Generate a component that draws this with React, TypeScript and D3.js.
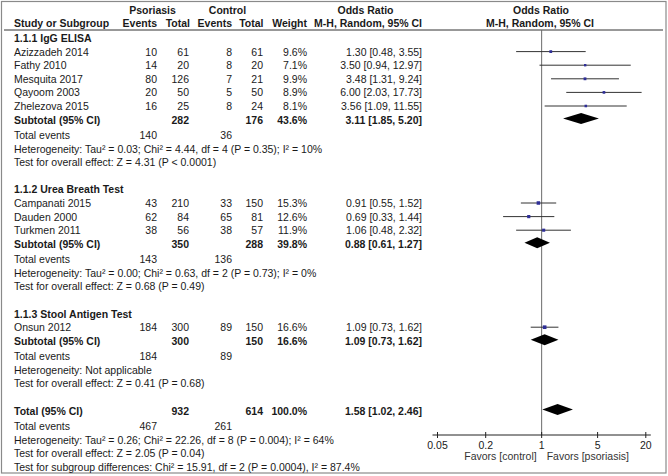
import React from "react";
import * as d3 from "d3";

const groupNames = ["1.1.1 IgG ELISA", "1.1.2 Urea Breath Test", "1.1.3 Stool Antigen Test"];
const studyNames = [
  ["Azizzadeh 2014", "Fathy 2010", "Mesquita 2017", "Qayoom 2003", "Zhelezova 2015"],
  ["Campanati 2015", "Dauden 2000", "Turkmen 2011"],
  ["Onsun 2012"],
];
const psoEvents = [[10, 14, 80, 20, 16], [43, 62, 38], [184]];
const psoTotal = [[61, 20, 126, 50, 25], [210, 84, 56], [300]];
const ctlEvents = [[8, 8, 7, 5, 8], [33, 65, 38], [89]];
const ctlTotal = [[61, 20, 21, 50, 24], [150, 81, 57], [150]];
const weights = [[9.6, 7.1, 9.9, 8.9, 8.1], [15.3, 12.6, 11.9], [16.6]];
const orEst = [[1.3, 3.5, 3.48, 6.0, 3.56], [0.91, 0.69, 1.06], [1.09]];
const orLow = [[0.48, 0.94, 1.31, 2.03, 1.09], [0.55, 0.33, 0.48], [0.73]];
const orHigh = [[3.55, 12.97, 9.24, 17.73, 11.55], [1.52, 1.44, 2.32], [1.62]];

const subPsoTotal = [282, 350, 300];
const subCtlTotal = [176, 288, 150];
const subWeight = ["43.6%", "39.8%", "16.6%"];
const subEst = [3.11, 0.88, 1.09];
const subLow = [1.85, 0.61, 0.73];
const subHigh = [5.2, 1.27, 1.62];
const subPsoEvents = [140, 143, 184];
const subCtlEvents = [36, 136, 89];
const subHetero = [
  "Heterogeneity: Tau² = 0.03; Chi² = 4.44, df = 4 (P = 0.35); I² = 10%",
  "Heterogeneity: Tau² = 0.00; Chi² = 0.63, df = 2 (P = 0.73); I² = 0%",
  "Heterogeneity: Not applicable",
];
const subTest = [
  "Test for overall effect: Z = 4.31 (P < 0.0001)",
  "Test for overall effect: Z = 0.68 (P = 0.49)",
  "Test for overall effect: Z = 0.41 (P = 0.68)",
];

const totalPso = 932;
const totalCtl = 614;
const totalWeight = "100.0%";
const totalEst = 1.58;
const totalLow = 1.02;
const totalHigh = 2.46;
const totalPsoEvents = 467;
const totalCtlEvents = 261;
const totalHetero = "Heterogeneity: Tau² = 0.26; Chi² = 22.26, df = 8 (P = 0.004); I² = 64%";
const totalTest = "Test for overall effect: Z = 2.05 (P = 0.04)";
const subgroupTest = "Test for subgroup differences: Chi² = 15.91, df = 2 (P = 0.0004), I² = 87.4%";

const tickValues = [0.05, 0.2, 1, 5, 20];
const tickLabels = ["0.05", "0.2", "1", "5", "20"];

const fmt2 = (v: number) => v.toFixed(2);
const ciText = (e: number, l: number, h: number) => `${fmt2(e)} [${fmt2(l)}, ${fmt2(h)}]`;

export default function App() {
  const W = 668;
  const H = 476;
  const font = "'Liberation Sans', Arial, Helvetica, sans-serif";
  const fs = 10.5;

  const step = 13.6;
  const gap = 1.8;
  const y0 = 38;

  const rows: any[] = [];
  const ys: number[] = [];
  let line = 0;
  let gaps = 0;
  const push = (r: any) => {
    rows.push(r);
    ys.push(y0 + line * step + gaps * gap);
    line += 1;
  };
  groupNames.forEach((gname, g) => {
    push({ kind: "group", text: gname });
    studyNames[g].forEach((_, i) => push({ kind: "study", g, i }));
    push({ kind: "subtotal", g });
    gaps += 1;
    push({ kind: "events", a: subPsoEvents[g], b: subCtlEvents[g] });
    push({ kind: "text", text: subHetero[g] });
    push({ kind: "text", text: subTest[g] });
    line += 1;
  });
  push({ kind: "total" });
  gaps += 1;
  push({ kind: "events", a: totalPsoEvents, b: totalCtlEvents });
  push({ kind: "text", text: totalHetero });
  push({ kind: "text", text: totalTest });
  push({ kind: "text", text: subgroupTest });

  const x = d3.scaleLog().domain([0.05, 20]).range([437.5, 645.8]);
  const sq = d3.scaleSqrt().domain([0, 20]).range([0, 4]);

  const axisY = 435;
  const headerLineY = 30;

  const colX = { name: 14, pe: 157, pt: 189, ce: 232, ct: 263, w: 307, or: 422 };

  const T = (props: any) => (
    <text fontFamily={font} fontSize={fs} fill="#1a1a1a" dominantBaseline="central" {...props} />
  );

  const diamond = (e: number, l: number, h: number, cy: number, hh: number) => {
    const p = d3.path();
    p.moveTo(x(l), cy);
    p.lineTo(x(e), cy - hh);
    p.lineTo(x(h), cy);
    p.lineTo(x(e), cy + hh);
    p.closePath();
    return <path d={p.toString()} fill="#000" />;
  };

  return (
    <svg width={W} height={H} style={{ position: "absolute", left: 0, top: 0, background: "#fff" }}>
      <rect x={1.5} y={1.5} width={664.5} height={471.5} fill="none" stroke="#8a8a8a" strokeWidth={1.2} />

      {/* headers */}
      <T x={152.5} y={10} textAnchor="middle" fontWeight="bold">Psoriasis</T>
      <T x={227.5} y={10} textAnchor="middle" fontWeight="bold">Control</T>
      <T x={365.5} y={10} textAnchor="middle" fontWeight="bold">Odds Ratio</T>
      <T x={541} y={10} textAnchor="middle" fontWeight="bold">Odds Ratio</T>
      <T x={colX.name} y={23} fontWeight="bold">Study or Subgroup</T>
      <T x={colX.pe} y={23} textAnchor="end" fontWeight="bold">Events</T>
      <T x={190} y={23} textAnchor="end" fontWeight="bold">Total</T>
      <T x={colX.ce} y={23} textAnchor="end" fontWeight="bold">Events</T>
      <T x={263.5} y={23} textAnchor="end" fontWeight="bold">Total</T>
      <T x={colX.w} y={23} textAnchor="end" fontWeight="bold">Weight</T>
      <T x={422} y={23} textAnchor="end" fontWeight="bold">M-H, Random, 95% CI</T>
      <T x={540} y={23} textAnchor="middle" fontWeight="bold">M-H, Random, 95% CI</T>
      <line x1={4} x2={663} y1={headerLineY} y2={headerLineY} stroke="#333" strokeWidth={1} />

      {/* null line */}
      <line x1={x(1)} x2={x(1)} y1={headerLineY} y2={axisY} stroke="#6a6a6a" strokeWidth={1} />

      {rows.map((r, k) => {
        const y = ys[k];
        if (r.kind === "group") {
          return <T key={k} x={colX.name} y={y} fontWeight="bold">{r.text}</T>;
        }
        if (r.kind === "study") {
          const { g, i } = r;
          const e = orEst[g][i], l = orLow[g][i], h = orHigh[g][i];
          const s = sq(weights[g][i]);
          return (
            <g key={k}>
              <T x={colX.name} y={y}>{studyNames[g][i]}</T>
              <T x={colX.pe} y={y} textAnchor="end">{psoEvents[g][i]}</T>
              <T x={colX.pt} y={y} textAnchor="end">{psoTotal[g][i]}</T>
              <T x={colX.ce} y={y} textAnchor="end">{ctlEvents[g][i]}</T>
              <T x={colX.ct} y={y} textAnchor="end">{ctlTotal[g][i]}</T>
              <T x={colX.w} y={y} textAnchor="end">{weights[g][i].toFixed(1)}%</T>
              <T x={colX.or} y={y} textAnchor="end">{ciText(e, l, h)}</T>
              <line x1={x(l)} x2={x(h)} y1={y} y2={y} stroke="#333" strokeWidth={1} />
              <rect x={x(e) - s / 2} y={y - s / 2} width={s} height={s} fill="#2e2e96" />
            </g>
          );
        }
        if (r.kind === "subtotal") {
          const g = r.g;
          return (
            <g key={k}>
              <T x={colX.name} y={y} fontWeight="bold">Subtotal (95% CI)</T>
              <T x={colX.pt} y={y} textAnchor="end" fontWeight="bold">{subPsoTotal[g]}</T>
              <T x={colX.ct} y={y} textAnchor="end" fontWeight="bold">{subCtlTotal[g]}</T>
              <T x={colX.w} y={y} textAnchor="end" fontWeight="bold">{subWeight[g]}</T>
              <T x={colX.or} y={y} textAnchor="end" fontWeight="bold">{ciText(subEst[g], subLow[g], subHigh[g])}</T>
              {diamond(subEst[g], subLow[g], subHigh[g], y - 1, 5.5)}
            </g>
          );
        }
        if (r.kind === "events") {
          return (
            <g key={k}>
              <T x={colX.name} y={y}>Total events</T>
              <T x={colX.pe} y={y} textAnchor="end">{r.a}</T>
              <T x={colX.ce} y={y} textAnchor="end">{r.b}</T>
            </g>
          );
        }
        if (r.kind === "text") {
          return <T key={k} x={colX.name} y={y}>{r.text}</T>;
        }
        return (
          <g key={k}>
            <T x={colX.name} y={y} fontWeight="bold">Total (95% CI)</T>
            <T x={colX.pt} y={y} textAnchor="end" fontWeight="bold">{totalPso}</T>
            <T x={colX.ct} y={y} textAnchor="end" fontWeight="bold">{totalCtl}</T>
            <T x={colX.w} y={y} textAnchor="end" fontWeight="bold">{totalWeight}</T>
            <T x={colX.or} y={y} textAnchor="end" fontWeight="bold">{ciText(totalEst, totalLow, totalHigh)}</T>
            {diamond(totalEst, totalLow, totalHigh, y - 1, 5.5)}
          </g>
        );
      })}

      {/* axis */}
      <line x1={x(0.05) - 5} x2={x(20) + 5} y1={axisY} y2={axisY} stroke="#222" strokeWidth={1} />
      {tickValues.map((t, i) => (
        <g key={t}>
          <line x1={x(t)} x2={x(t)} y1={axisY - 3} y2={axisY + 3} stroke="#222" strokeWidth={1} />
          <T x={x(t)} y={445} textAnchor="middle">{tickLabels[i]}</T>
        </g>
      ))}
      <T x={x(1) - 5} y={456} textAnchor="end" fill="#333">Favors [control]</T>
      <T x={x(1) + 5} y={456} textAnchor="start" fill="#333">Favors [psoriasis]</T>
    </svg>
  );
}
